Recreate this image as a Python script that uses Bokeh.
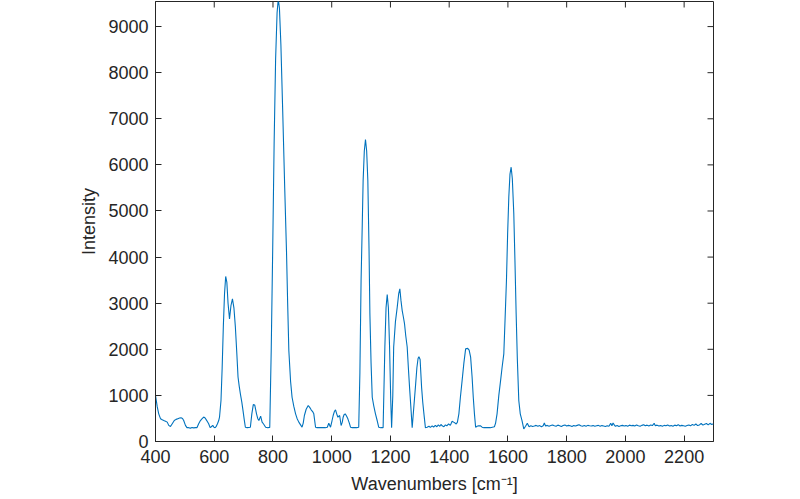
from bokeh.plotting import figure
from bokeh.models import Range1d, FixedTicker
from bokeh.embed import file_html
from bokeh.resources import INLINE

wavenumber = [
    400, 406, 411, 417, 423, 428, 434, 440, 445, 451, 457, 464, 470, 476, 482, 487, 492, 496, 502, 507,
    513, 519, 524, 530, 536, 541, 547, 553, 558, 564, 569, 573, 577, 581, 586, 590, 595, 599, 603, 607,
    611, 615, 618, 623, 627, 631, 635, 639, 643, 647, 652, 657, 662, 667, 672, 677, 681, 685, 689, 694,
    698, 702, 706, 712, 718, 723, 728, 733, 738, 744, 748, 752, 758, 763, 768, 775, 782, 789, 794, 799,
    804, 809, 814, 818, 822, 827, 833, 840, 846, 850, 854, 860, 865, 871, 877, 882, 888, 894, 899, 903,
    907, 913, 920, 925, 930, 935, 939, 945, 950, 960, 970, 978, 985, 990, 996, 1001, 1005, 1009, 1013, 1017,
    1021, 1027, 1032, 1036, 1039, 1042, 1046, 1050, 1055, 1060, 1064, 1070, 1078, 1085, 1092, 1096, 1100, 1104, 1107, 1111,
    1115, 1119, 1123, 1127, 1130, 1134, 1138, 1143, 1149, 1155, 1160, 1167, 1175, 1181, 1185, 1189, 1193, 1197, 1201, 1204,
    1208, 1211, 1217, 1223, 1228, 1232, 1236, 1240, 1244, 1248, 1252, 1257, 1261, 1265, 1270, 1274, 1279, 1285, 1290, 1294,
    1297, 1301, 1306, 1310, 1314, 1319, 1325, 1331, 1336, 1342, 1347, 1353, 1358, 1363, 1368, 1372, 1376, 1382, 1387, 1392,
    1398, 1404, 1410, 1415, 1420, 1424, 1428, 1433, 1438, 1444, 1450, 1456, 1463, 1468, 1473, 1478, 1482, 1486, 1490, 1495,
    1500, 1507, 1512, 1518, 1525, 1532, 1540, 1547, 1554, 1558, 1563, 1569, 1575, 1580, 1586, 1590, 1595, 1599, 1603, 1607,
    1611, 1615, 1620, 1624, 1628, 1632, 1637, 1642, 1648, 1654, 1660, 1666, 1672, 1678, 1684, 1690, 1696, 1702, 1708, 1714,
    1720, 1724, 1728, 1734, 1740, 1746, 1752, 1758, 1764, 1770, 1776, 1782, 1788, 1794, 1800, 1806, 1812, 1818, 1824, 1830,
    1836, 1842, 1848, 1854, 1860, 1866, 1872, 1878, 1884, 1890, 1896, 1902, 1908, 1914, 1920, 1926, 1932, 1938, 1944, 1950,
    1954, 1958, 1962, 1966, 1972, 1978, 1984, 1990, 1996, 2002, 2008, 2014, 2020, 2026, 2032, 2038, 2044, 2050, 2056, 2062,
    2068, 2074, 2080, 2086, 2092, 2098, 2102, 2108, 2114, 2120, 2126, 2132, 2138, 2144, 2150, 2156, 2162, 2168, 2174, 2180,
    2186, 2192, 2198, 2204, 2210, 2216, 2222, 2228, 2234, 2240, 2246, 2252, 2258, 2264, 2270, 2276, 2282, 2288, 2294, 2300,
]

intensity = [
    1000, 750, 600, 495, 470, 455, 440, 420, 350, 325, 385, 455, 480, 495, 510, 515, 500, 455, 350, 300,
    300, 290, 305, 295, 300, 300, 385, 455, 490, 530, 510, 470, 430, 385, 300, 320, 350, 310, 300, 330,
    385, 450, 530, 890, 1600, 2500, 3200, 3580, 3450, 3000, 2660, 2950, 3095, 2900, 2480, 1900, 1400, 1200, 1034, 850,
    670, 480, 310, 300, 305, 310, 600, 800, 790, 600, 500, 455, 550, 420, 380, 310, 300, 305, 1970, 4140,
    6500, 8300, 9300, 9600, 9400, 8600, 7200, 5500, 4140, 3000, 1974, 1300, 960, 760, 600, 500, 420, 360, 310, 400,
    564, 700, 781, 740, 688, 650, 600, 310, 300, 300, 305, 300, 310, 397, 310, 450, 564, 650, 688, 600,
    527, 564, 347, 420, 527, 580, 600, 560, 492, 400, 310, 300, 305, 300, 310, 1500, 3490, 4700, 5660, 6300,
    6550, 6300, 5660, 4200, 2770, 1700, 960, 780, 600, 450, 310, 300, 300, 2050, 2900, 3190, 2900, 2050, 900, 300,
    1000, 2050, 2600, 2910, 3200, 3310, 3050, 2840, 2700, 2550, 2300, 2050, 1600, 1180, 700, 300, 700, 1180, 1600, 1800,
    1840, 1780, 1180, 850, 600, 300, 310, 330, 305, 340, 315, 350, 320, 360, 330, 370, 340, 320, 360, 340,
    380, 350, 440, 420, 400, 380, 420, 600, 950, 1320, 1700, 2010, 2020, 1980, 1830, 1400, 960, 600, 310, 330,
    340, 340, 310, 300, 300, 305, 300, 310, 320, 400, 600, 1000, 1320, 1600, 1900, 2600, 3490, 4500, 5300, 5800,
    5950, 5700, 4940, 3900, 2770, 1800, 890, 600, 455, 275, 330, 395, 320, 340, 325, 335, 350, 330, 345, 320,
    340, 400, 335, 350, 330, 345, 360, 340, 330, 355, 340, 325, 345, 360, 335, 350, 340, 325, 345, 335,
    350, 365, 340, 330, 345, 330, 350, 340, 335, 345, 330, 340, 350, 330, 345, 335, 325, 340, 330, 395,
    340, 400, 360, 330, 345, 325, 340, 350, 335, 345, 330, 355, 340, 350, 335, 360, 340, 330, 350, 365,
    340, 355, 335, 360, 345, 395, 340, 355, 335, 345, 330, 350, 340, 360, 335, 345, 330, 355, 340, 365,
    335, 350, 340, 330, 345, 360, 340, 370, 350, 380, 345, 360, 390, 355, 375, 390, 360, 395, 370, 385,
]

x_ticks = [400, 600, 800, 1000, 1200, 1400, 1600, 1800, 2000, 2200]
y_ticks = [0, 1000, 2000, 3000, 4000, 5000, 6000, 7000, 8000, 9000]
x_title = "Wavenumbers [cm\u207b\u00b9]"
y_title = "Intensity"

X_START, X_END = 400, 2300
Y_START, Y_END = 0, 9544

AX = "#262626"
FONT = "Liberation Sans"
FS = "18px"
W, H = 800, 499
BL, BR, BT, BB = 155, 87, 1, 58
TICK = 6

p = figure(width=W, height=H,
           x_range=Range1d(X_START, X_END), y_range=Range1d(Y_START, Y_END),
           output_backend="svg", toolbar_location=None,
           min_border_left=BL, min_border_right=BR, min_border_top=BT, min_border_bottom=BB,
           x_axis_label=x_title, y_axis_label=y_title)
p.xgrid.visible = False
p.ygrid.visible = False
p.outline_line_color = AX
p.background_fill_color = "white"
p.border_fill_color = "white"

p.line(wavenumber, intensity, line_color="#0072BD", line_width=1.1)

# mirrored inward ticks on the top and right edges of the box (MATLAB "box on")
frame_w = W - BL - BR
frame_h = H - BT - BB
dy_tick = TICK * (Y_END - Y_START) / frame_h
dx_tick = TICK * (X_END - X_START) / frame_w
p.segment(x0=x_ticks, x1=x_ticks, y0=[Y_END] * len(x_ticks), y1=[Y_END - dy_tick] * len(x_ticks),
          line_color=AX, line_width=1)
p.segment(x0=[X_END] * len(y_ticks), x1=[X_END - dx_tick] * len(y_ticks), y0=y_ticks, y1=y_ticks,
          line_color=AX, line_width=1)

def style(ax, ticks):
    ax.ticker = FixedTicker(ticks=ticks)
    ax.minor_tick_line_color = None
    ax.major_tick_in = TICK
    ax.major_tick_out = 0
    ax.axis_line_color = AX
    ax.major_tick_line_color = AX
    ax.major_label_text_color = AX
    ax.major_label_text_font = FONT
    ax.major_label_text_font_size = FS
    ax.axis_label_text_font = FONT
    ax.axis_label_text_font_size = FS
    ax.axis_label_text_font_style = "normal"
    ax.axis_label_text_color = AX

style(p.xaxis[0], x_ticks)
style(p.yaxis[0], y_ticks)
p.xaxis[0].major_label_standoff = 8
p.xaxis[0].axis_label_standoff = 8
p.yaxis[0].major_label_standoff = 7
p.yaxis[0].axis_label_standoff = 6

open("out.html", "w").write(file_html(p, INLINE))
